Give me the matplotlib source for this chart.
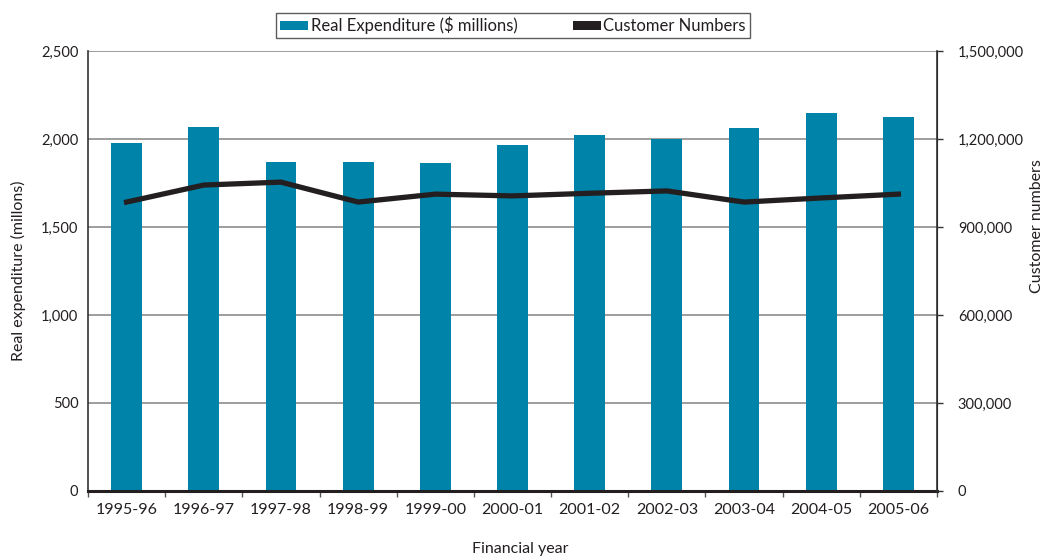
import matplotlib
matplotlib.use("Agg")
import matplotlib.pyplot as plt
from matplotlib.patches import Patch
from matplotlib.ticker import FuncFormatter, FixedLocator
import numpy as np

years = ["1995-96", "1996-97", "1997-98", "1998-99", "1999-00", "2000-01",
         "2001-02", "2002-03", "2003-04", "2004-05", "2005-06"]
expenditure = [1980, 2070, 1870, 1870, 1865, 1965, 2020, 2000, 2060, 2150, 2125]
customers = [985000, 1043000, 1053000, 985000, 1012000, 1006000,
             1015000, 1023000, 985000, 999000, 1012000]

BAR_COLOR = "#0083a9"
LINE_COLOR = "#231f20"
TEXT_COLOR = "#231f20"

plt.rcParams["font.family"] = ["Lato", "DejaVu Sans"]
plt.rcParams["font.size"] = 11

W, H = 1046, 559
fig = plt.figure(figsize=(W / 100, H / 100), dpi=100)
ax = fig.add_axes([88 / W, 68 / H, 849 / W, 440 / H])
ax2 = ax.twinx()

x = np.arange(len(years))
ax.bar(x, expenditure, width=0.4, color=BAR_COLOR, zorder=2)
ax.set_xlim(-0.5, len(years) - 0.5)
ax.set_ylim(0, 2500)
ax.set_yticks(np.arange(0, 2501, 500))
ax.yaxis.set_major_formatter(FuncFormatter(lambda v, p: f"{int(v):,}"))
ax.grid(axis="y", color="#8c8c8c", linewidth=1.2, zorder=0)
ax.set_axisbelow(True)

ax.set_xticks(x)
ax.set_xticklabels(years, color=TEXT_COLOR, fontsize=11.5)
ax.xaxis.set_minor_locator(FixedLocator(np.arange(-0.5, len(years), 1.0)))
ax.tick_params(axis="x", which="major", length=0, pad=9)
ax.tick_params(axis="x", which="minor", length=4, width=1, color="#555555")
ax.tick_params(axis="y", length=0, pad=7, labelsize=10.5, colors=TEXT_COLOR)

ax.spines["top"].set_visible(False)
ax2.spines["top"].set_visible(False)
ax.spines["bottom"].set_linewidth(2.2)
ax.spines["bottom"].set_color(LINE_COLOR)
ax.spines["left"].set_linewidth(1.2)
ax.spines["left"].set_color("#333333")
ax2.spines["right"].set_linewidth(1.2)
ax2.spines["right"].set_color("#333333")
ax2.spines["left"].set_visible(False)
ax2.spines["bottom"].set_visible(False)

ax2.plot(x, customers, color=LINE_COLOR, linewidth=3.8, solid_joinstyle="miter", zorder=3)
ax2.set_ylim(0, 1500000)
ax2.set_yticks(np.arange(0, 1500001, 300000))
ax2.yaxis.set_major_formatter(FuncFormatter(lambda v, p: f"{int(v):,}"))
ax2.tick_params(axis="y", length=4, width=1, color="#333333", pad=11,
                labelsize=10.5, labelcolor=TEXT_COLOR)

fig.text(18 / W, 1 - 271 / H, "Real expenditure (millons)", rotation=90,
         ha="center", va="center", fontsize=11.5, color=TEXT_COLOR)
fig.text(1037 / W, 1 - 226 / H, "Customer numbers", rotation=90,
         ha="center", va="center", fontsize=11.5, color=TEXT_COLOR)
fig.text(520 / W, 1 - 549 / H, "Financial year", ha="center", va="center",
         fontsize=11.5, color=TEXT_COLOR)

handles = [Patch(facecolor=BAR_COLOR, label="Real Expenditure ($ millions)"),
           Patch(facecolor=LINE_COLOR, label="Customer Numbers")]
leg = fig.legend(handles=handles, loc="center", bbox_to_anchor=(513 / W, 1 - 25.5 / H),
                 ncol=2, frameon=True, fancybox=False, fontsize=12,
                 handlelength=1.7, handleheight=0.4, handletextpad=0.15,
                 columnspacing=3.3, borderpad=0.25, borderaxespad=0)
leg.get_frame().set_edgecolor("#333333")
leg.get_frame().set_linewidth(1.0)
for t in leg.get_texts():
    t.set_color(TEXT_COLOR)

fig.savefig("out.png", dpi=100)
